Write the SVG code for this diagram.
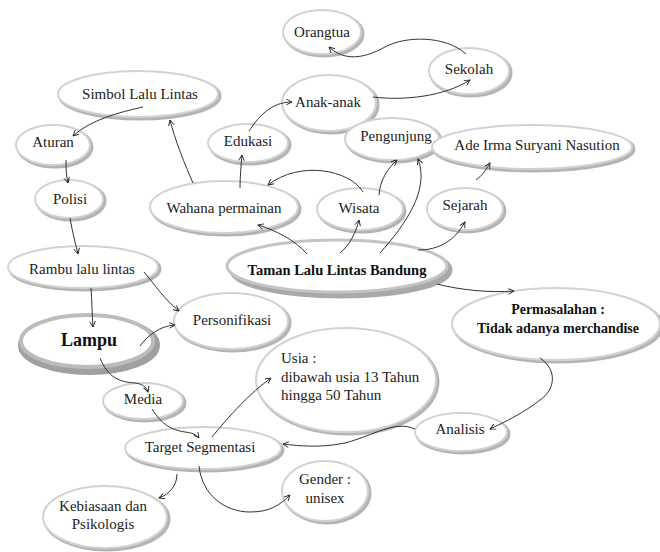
<svg xmlns="http://www.w3.org/2000/svg" width="660" height="552" viewBox="0 0 660 552">
<defs>
<style>
.sh{fill:none;stroke:#b4b4b4;stroke-width:5}
.fr{fill:#fff;stroke:#d2d2d2;stroke-width:2}
.t{font-family:'Liberation Serif','DejaVu Serif','Times New Roman',serif;font-size:15px;fill:#222;text-anchor:middle}
.s{text-anchor:start}
.b{font-weight:bold;fill:#111;font-size:14px}
.c{fill:none;stroke:#333;stroke-width:1;marker-end:url(#ah)}
</style>
<marker id="ah" viewBox="0 0 10 10" refX="9" refY="5" markerWidth="7" markerHeight="7" orient="auto" markerUnits="userSpaceOnUse">
<path d="M1,1 L9,5 L1,9" fill="none" stroke="#222" stroke-width="1.3"/>
</marker>
</defs>
<rect width="660" height="552" fill="#fff"/>

<g id="orangtua"><ellipse class="sh" cx="324" cy="34" rx="38" ry="21"/><ellipse class="fr" cx="322" cy="32" rx="39" ry="22"/><text class="t" x="322" y="37">Orangtua</text></g>
<g id="sekolah"><ellipse class="sh" cx="471" cy="73" rx="39" ry="22"/><ellipse class="fr" cx="469" cy="71" rx="40" ry="23"/><text class="t" x="469" y="74">Sekolah</text></g>
<g id="simbol"><ellipse class="sh" cx="140" cy="96" rx="79" ry="22"/><ellipse class="fr" cx="138" cy="94" rx="80" ry="23"/><text class="t" x="140" y="99">Simbol Lalu Lintas</text></g>
<g id="anak"><ellipse class="sh" cx="331" cy="105" rx="46" ry="27"/><ellipse class="fr" cx="329" cy="103" rx="47" ry="28"/><text class="t" x="328" y="107">Anak-anak</text></g>
<g id="edukasi"><ellipse class="sh" cx="250" cy="145" rx="39" ry="18"/><ellipse class="fr" cx="248" cy="143" rx="40" ry="19"/><text class="t" x="248" y="146">Edukasi</text></g>
<g id="pengunjung"><ellipse class="sh" cx="394" cy="141" rx="46" ry="20"/><ellipse class="fr" cx="392" cy="139" rx="47" ry="21"/><text class="t" x="396" y="141">Pengunjung</text></g>
<g id="ade"><ellipse class="sh" cx="534" cy="149" rx="99" ry="21"/><ellipse class="fr" cx="532" cy="147" rx="100" ry="22"/><text class="t" x="537" y="150">Ade Irma Suryani Nasution</text></g>
<g id="aturan"><ellipse class="sh" cx="55" cy="147" rx="36" ry="19"/><ellipse class="fr" cx="53" cy="145" rx="37" ry="20"/><text class="t" x="53" y="147">Aturan</text></g>
<g id="polisi"><ellipse class="sh" cx="71" cy="201" rx="33" ry="18"/><ellipse class="fr" cx="69" cy="199" rx="34" ry="19"/><text class="t" x="70" y="204">Polisi</text></g>
<g id="wahana"><ellipse class="sh" cx="226" cy="209" rx="73" ry="25"/><ellipse class="fr" cx="224" cy="207" rx="74" ry="26"/><text class="t" x="224" y="213">Wahana permainan</text></g>
<g id="wisata"><ellipse class="sh" cx="362" cy="211" rx="42" ry="20"/><ellipse class="fr" cx="360" cy="209" rx="43" ry="21"/><text class="t" x="359" y="213">Wisata</text></g>
<g id="sejarah"><ellipse class="sh" cx="467" cy="211" rx="37" ry="20"/><ellipse class="fr" cx="465" cy="209" rx="38" ry="21"/><text class="t" x="465" y="210">Sejarah</text></g>
<g id="rambu"><ellipse class="sh" cx="85" cy="269" rx="74" ry="20"/><ellipse class="fr" cx="83" cy="267" rx="75" ry="21"/><text class="t" x="82" y="274">Rambu lalu lintas</text></g>
<g id="taman"><ellipse fill="none" stroke="#a9a9a9" stroke-width="7" cx="341" cy="270" rx="108" ry="25"/><ellipse fill="#fff" stroke="#c4c4c4" stroke-width="3" cx="337" cy="266" rx="110" ry="26"/><text class="t b" x="337" y="275" style="font-size:14.5px">Taman Lalu Lintas Bandung</text></g>
<g id="permasalahan"><ellipse class="sh" cx="558" cy="326" rx="103" ry="35"/><ellipse class="fr" cx="556" cy="324" rx="104" ry="36"/><text class="t b" x="558" y="314">Permasalahan :</text><text class="t b" x="558" y="333">Tidak adanya merchandise</text></g>
<g id="lampu"><ellipse fill="none" stroke="#a0a0a0" stroke-width="10" cx="89" cy="345" rx="66" ry="25"/><ellipse fill="#fff" stroke="#bcbcbc" stroke-width="4" cx="87" cy="341" rx="66" ry="26"/><text class="t b" x="89" y="346" style="font-size:18px">Lampu</text></g>
<g id="personifikasi"><ellipse class="sh" cx="233" cy="323" rx="56" ry="27"/><ellipse class="fr" cx="231" cy="321" rx="57" ry="28"/><text class="t" x="232" y="325">Personifikasi</text></g>
<g id="usia"><ellipse class="sh" cx="348" cy="382" rx="89" ry="51"/><ellipse class="fr" cx="346" cy="380" rx="90" ry="52"/><text class="t s" x="281" y="363">Usia :</text><text class="t s" x="281" y="382">dibawah usia 13 Tahun</text><text class="t s" x="281" y="400">hingga 50 Tahun</text></g>
<g id="media"><ellipse class="sh" cx="145" cy="403" rx="39" ry="17"/><ellipse class="fr" cx="143" cy="401" rx="40" ry="18"/><text class="t" x="143" y="404">Media</text></g>
<g id="analisis"><ellipse class="sh" cx="463" cy="434" rx="45" ry="18"/><ellipse class="fr" cx="461" cy="432" rx="46" ry="19"/><text class="t" x="460" y="434">Analisis</text></g>
<g id="target"><ellipse class="sh" cx="205" cy="450" rx="77" ry="20"/><ellipse class="fr" cx="203" cy="448" rx="78" ry="21"/><text class="t" x="200" y="452">Target Segmentasi</text></g>
<g id="gender"><ellipse class="sh" cx="327" cy="493" rx="42" ry="29"/><ellipse class="fr" cx="325" cy="491" rx="43" ry="30"/><text class="t" x="325" y="484">Gender :</text><text class="t" x="325" y="503">unisex</text></g>
<g id="kebiasaan"><ellipse class="sh" cx="107" cy="519" rx="61" ry="30"/><ellipse class="fr" cx="105" cy="517" rx="62" ry="31"/><text class="t" x="103" y="511">Kebiasaan dan</text><text class="t" x="103" y="529">Psikologis</text></g>

<g id="connectors">
<path class="c" d="M466,54 C445,35 405,36 385,47 C365,58 345,62 329,47"/>
<path class="c" d="M373,97 C405,101 445,96 470,80"/>
<path class="c" d="M143,107 C120,112 90,120 73,136"/>
<path class="c" d="M66,160 C66,168 66,175 68,183"/>
<path class="c" d="M70,218 C72,230 75,242 78,254"/>
<path class="c" d="M91,288 C92,300 92,315 93,327"/>
<path class="c" d="M144,272 C155,285 165,300 179,311"/>
<path class="c" d="M140,346 C148,335 160,326 175,325"/>
<path class="c" d="M100,358 C108,378 120,382 135,383 C142,384 146,386 148,392"/>
<path class="c" d="M152,409 C162,425 172,430 185,432 C192,433 196,434 199,438"/>
<path class="c" d="M212,437 C230,415 250,393 271,378"/>
<path class="c" d="M415,429 C395,420 375,435 345,443 C320,448 300,446 283,444"/>
<path class="c" d="M540,358 C558,370 555,390 540,400 C525,412 505,422 490,429"/>
<path class="c" d="M177,474 C177,485 170,494 159,498"/>
<path class="c" d="M199,466 C202,495 225,512 250,512 C270,512 280,505 290,495"/>
<path class="c" d="M437,284 C460,290 490,293 514,291"/>
<path class="c" d="M418,250 C440,250 455,240 465,222"/>
<path class="c" d="M380,253 C405,225 430,190 418,159"/>
<path class="c" d="M379,195 C380,180 388,168 397,160"/>
<path class="c" d="M340,253 C350,245 356,232 359,220"/>
<path class="c" d="M307,254 C295,240 275,230 258,225"/>
<path class="c" d="M363,192 C350,170 300,160 268,185"/>
<path class="c" d="M240,188 C240,177 241,166 242,155"/>
<path class="c" d="M249,131 C258,118 270,102 292,102"/>
<path class="c" d="M193,183 C185,165 175,140 170,120"/>
<path class="c" d="M476,180 C482,176 486,170 490,163"/>
</g>
</svg>
